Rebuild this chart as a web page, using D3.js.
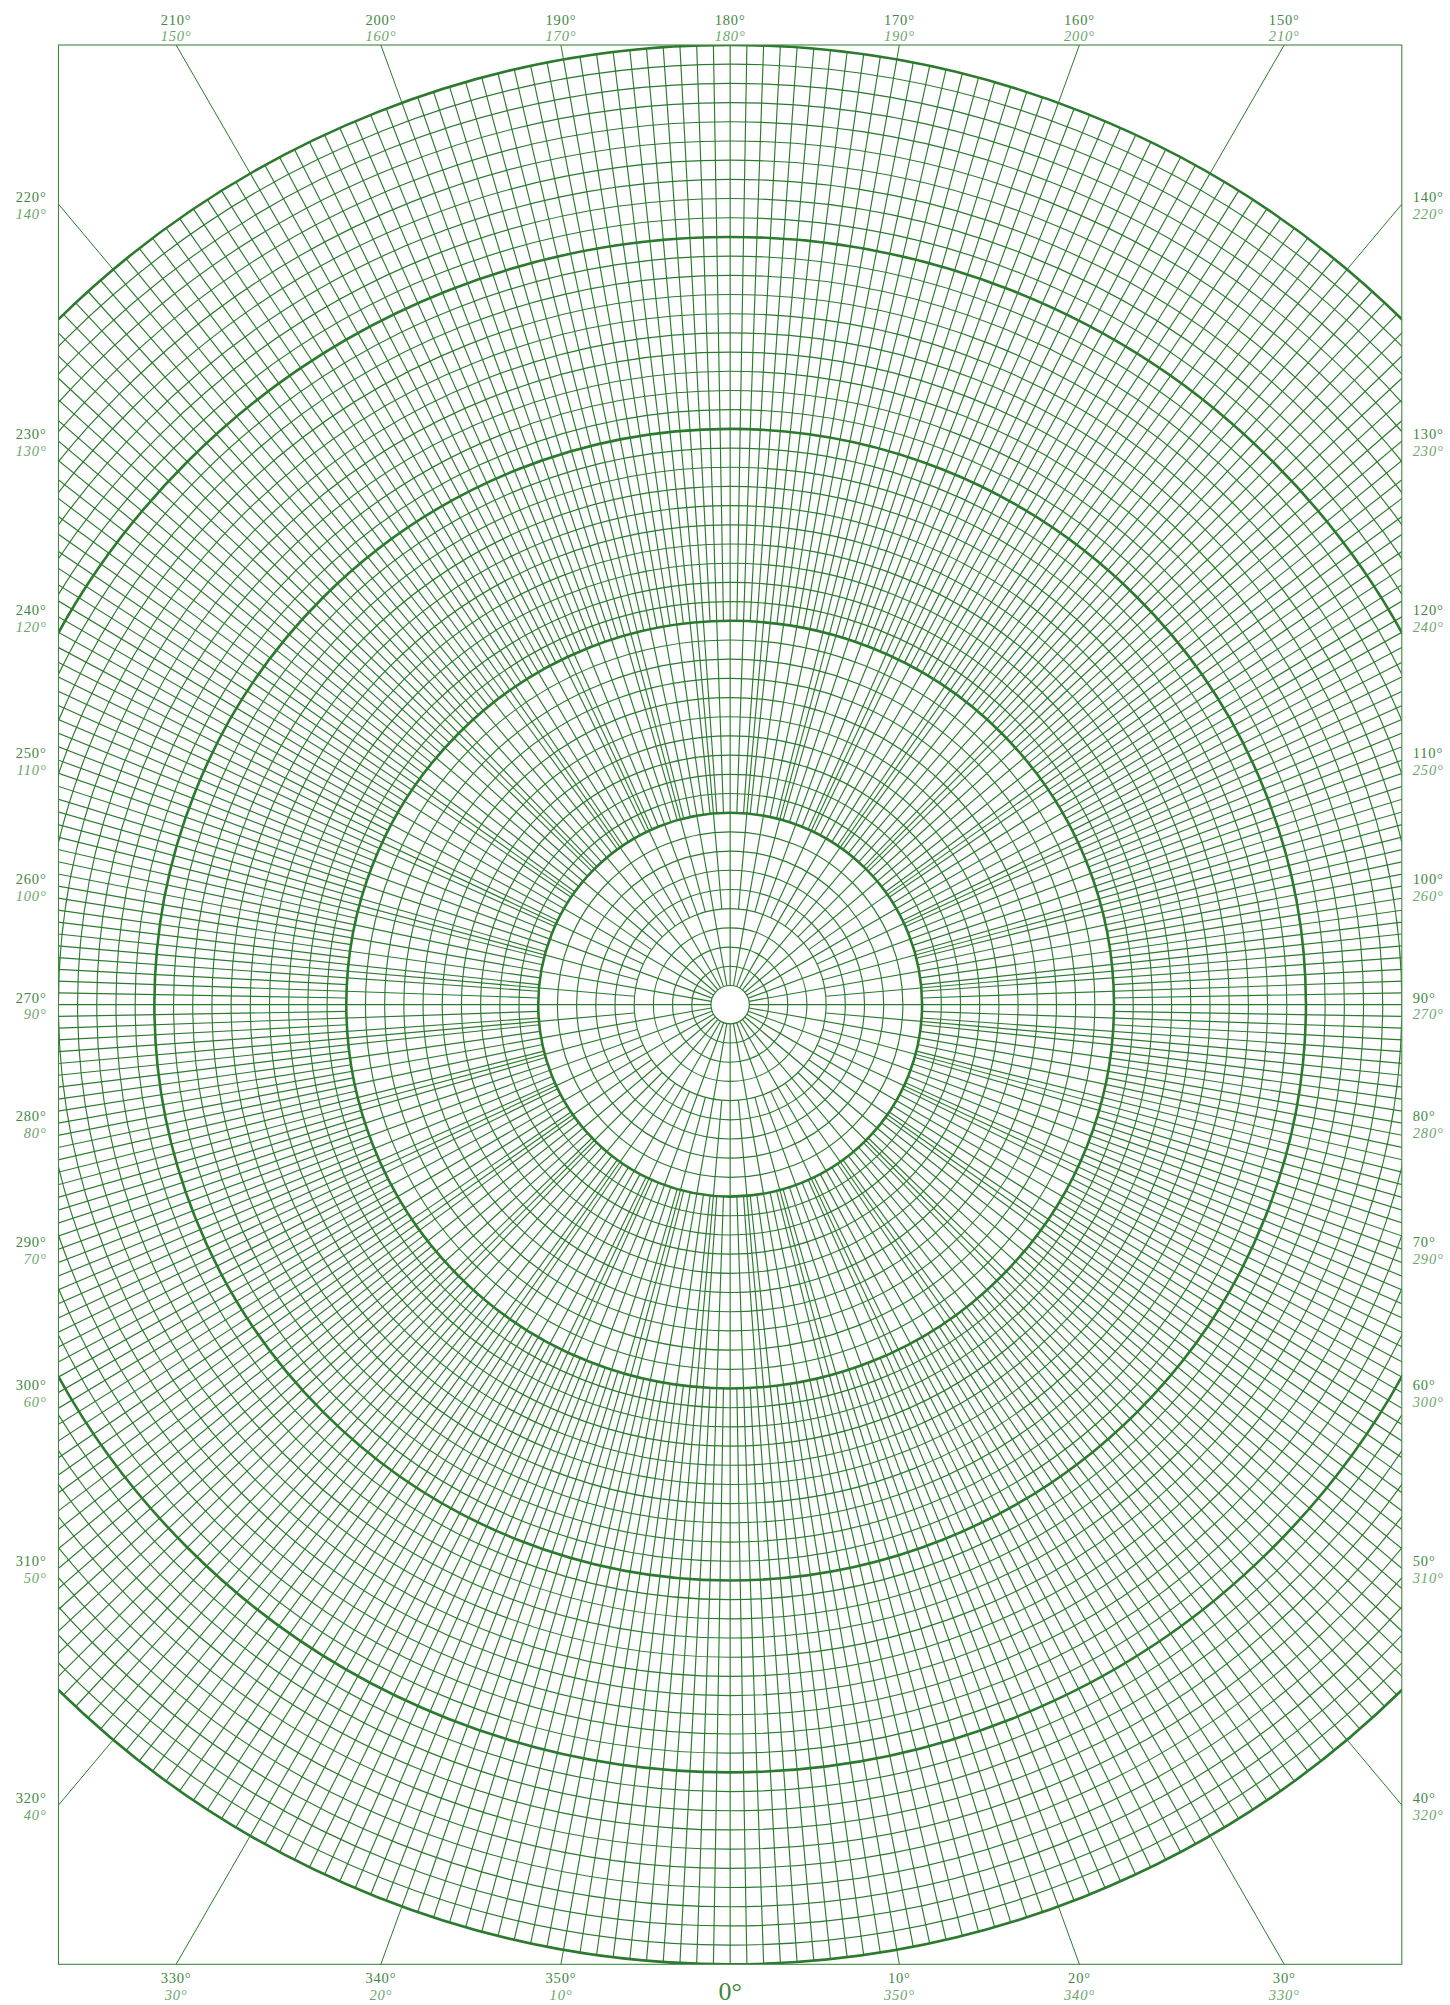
<!DOCTYPE html>
<html>
<head>
<meta charset="utf-8">
<script src="https://cdn.jsdelivr.net/npm/d3@7"></script>
<style>
  html, body { margin: 0; padding: 0; background: #fff; }
  svg { display: block; }
  text { font-family: "Liberation Serif", "DejaVu Serif", serif; }
</style>
</head>
<body>
<div id="chart"></div>
<script>
// angle labels (degrees, 0 at bottom, counter clockwise on screen)
let labelAngles = [0, 10, 20, 30, 40, 50, 60, 70, 80, 90, 100, 110, 120, 130, 140, 150, 160, 170,
  180, 190, 200, 210, 220, 230, 240, 250, 260, 270, 280, 290, 300, 310, 320, 330, 340, 350];
// radius rings (in grid units)
let majorRings = [1, 2, 3, 4, 5];
let minorRings = d3.range(1, 50).map(d => d / 10).filter(d => d % 1 !== 0);
// spoke zones: angle step (deg) that starts at a radius
let spokeFrom = [0.1, 0.5, 1, 2];
let spokeStep = [10, 5, 2, 1];

let config = { svg: {}, box: {} };
config.svg.width = 1450;
config.svg.height = 2005;
config.box.x0 = 58.5;
config.box.x1 = 1401.8;
config.box.y0 = 45;
config.box.y1 = 1964.3;
let cx = (config.box.x0 + config.box.x1) / 2;
let cy = (config.box.y0 + config.box.y1) / 2;
let R = (config.box.y1 - config.box.y0) / 2;

let green = '#2b7a2e';
let labelDark = '#3f873f';
let labelLight = '#6aa66a';

let r = d3.scaleLinear().domain([0, 5]).range([0, R]);
let a = d3.scaleLinear().domain([0, 360]).range([0, 2 * Math.PI]);

function px(deg, rad) { return cx + rad * Math.sin(a(deg)); }
function py(deg, rad) { return cy + rad * Math.cos(a(deg)); }

let svg = d3.select('#chart').append('svg')
  .attr('width', config.svg.width)
  .attr('height', config.svg.height);

svg.append('clipPath').attr('id', 'clip')
  .append('rect')
  .attr('x', config.box.x0).attr('y', config.box.y0)
  .attr('width', config.box.x1 - config.box.x0)
  .attr('height', config.box.y1 - config.box.y0);

let grid = svg.append('g').attr('clip-path', 'url(#clip)');

// spokes
let spokes = [];
spokeStep.forEach(function(step, i) {
  d3.range(0, 360, step).forEach(function(deg) {
    // start where this angle first appears
    let prev = spokeStep.slice(0, i).some(s => deg % s === 0);
    if (!prev) spokes.push({ deg: deg, r0: spokeFrom[i], r1: 5 });
  });
});
grid.selectAll('line.spoke')
  .data(spokes)
  .enter().append('line')
  .attr('class', 'spoke')
  .attr('x1', d => px(d.deg, r(d.r0)))
  .attr('y1', d => py(d.deg, r(d.r0)))
  .attr('x2', d => px(d.deg, r(d.r1)))
  .attr('y2', d => py(d.deg, r(d.r1)))
  .attr('stroke', green)
  .attr('stroke-width', 1.15);

// spokes outside the last ring, to the frame
grid.selectAll('line.ext')
  .data(labelAngles)
  .enter().append('line')
  .attr('class', 'ext')
  .attr('x1', d => px(d, r(5)))
  .attr('y1', d => py(d, r(5)))
  .attr('x2', d => px(d, r(12)))
  .attr('y2', d => py(d, r(12)))
  .attr('stroke', green)
  .attr('stroke-width', 1);

grid.selectAll('circle.minor')
  .data(minorRings)
  .enter().append('circle')
  .attr('class', 'minor')
  .attr('cx', cx).attr('cy', cy)
  .attr('r', d => r(d))
  .attr('fill', 'none')
  .attr('stroke', green)
  .attr('stroke-width', 1.15);

grid.selectAll('circle.major')
  .data(majorRings)
  .enter().append('circle')
  .attr('class', 'major')
  .attr('cx', cx).attr('cy', cy)
  .attr('r', d => r(d))
  .attr('fill', 'none')
  .attr('stroke', green)
  .attr('stroke-width', 2.6);

// frame
svg.append('rect')
  .attr('x', config.box.x0).attr('y', config.box.y0)
  .attr('width', config.box.x1 - config.box.x0)
  .attr('height', config.box.y1 - config.box.y0)
  .attr('fill', 'none')
  .attr('stroke', '#3f873f')
  .attr('stroke-width', 1.1);

// labels where the spoke meets the frame
function hit(deg) {
  let dx = Math.sin(a(deg)), dy = Math.cos(a(deg));
  let ts = [];
  if (dx > 1e-9) ts.push((config.box.x1 - cx) / dx);
  if (dx < -1e-9) ts.push((config.box.x0 - cx) / dx);
  if (dy > 1e-9) ts.push((config.box.y1 - cy) / dy);
  if (dy < -1e-9) ts.push((config.box.y0 - cy) / dy);
  let t = d3.min(ts);
  let x = cx + t * dx, y = cy + t * dy;
  let side;
  if (Math.abs(y - config.box.y0) < 0.5) side = 'top';
  else if (Math.abs(y - config.box.y1) < 0.5) side = 'bottom';
  else if (Math.abs(x - config.box.x0) < 0.5) side = 'left';
  else side = 'right';
  return { x: x, y: y, side: side };
}

let fs = 14.5;
let labels = svg.append('g');
labelAngles.forEach(function(deg) {
  let h = hit(deg);
  let other = (360 - deg) % 360;
  let x = h.x, y1, y2, anchor = 'middle';
  if (h.side === 'top') { y1 = config.box.y0 - 20.5; y2 = config.box.y0 - 3.8; }
  else if (h.side === 'bottom') { y1 = config.box.y1 + 18.5; y2 = config.box.y1 + 35.2; }
  else if (h.side === 'left') { x = config.box.x0 - 12; anchor = 'end'; y1 = h.y - 2; y2 = h.y + 14.7; }
  else { x = config.box.x1 + 11; anchor = 'start'; y1 = h.y - 2; y2 = h.y + 14.7; }

  if (deg === 0) {
    labels.append('text')
      .attr('x', x).attr('y', config.box.y1 + 36)
      .attr('text-anchor', 'middle')
      .attr('font-size', 26)
      .attr('fill', labelDark)
      .text('0°');
    return;
  }
  labels.append('text')
    .attr('x', x).attr('y', y1)
    .attr('text-anchor', anchor)
    .attr('font-size', fs)
    .attr('letter-spacing', 0.8)
    .attr('fill', labelDark)
    .text(deg + '°');
  labels.append('text')
    .attr('x', x).attr('y', y2)
    .attr('text-anchor', anchor)
    .attr('font-size', fs)
    .attr('letter-spacing', 0.8)
    .attr('font-style', 'italic')
    .attr('fill', labelLight)
    .text(other + '°');
});
</script>
</body>
</html>
